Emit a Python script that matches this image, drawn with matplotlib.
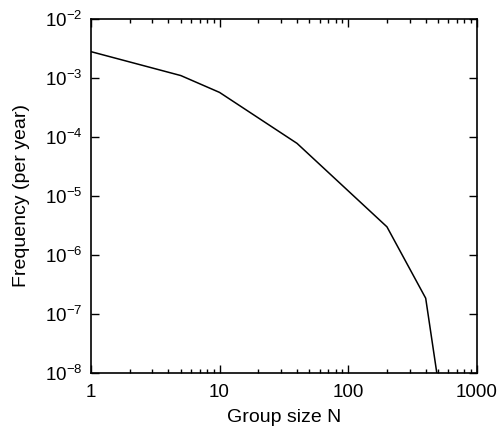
import matplotlib
matplotlib.use("Agg")
import matplotlib.pyplot as plt
import matplotlib.ticker as ticker
import numpy as np

plt.rcParams['font.family'] = ['Liberation Sans', 'DejaVu Sans']
plt.rcParams['mathtext.fontset'] = 'custom'
plt.rcParams['mathtext.rm'] = 'Liberation Sans'
plt.rcParams['mathtext.default'] = 'regular'

# Data
group_size = [1, 5, 10, 40, 200, 400, 500]
frequency = [2.8e-3, 1.1e-3, 5.7e-4, 7.8e-5, 3.0e-6, 1.85e-7, 7e-9]

x_ticks = [1, 10, 100, 1000]
x_labels = ['1', '10', '100', '1000']
y_ticks = [1e-8, 1e-7, 1e-6, 1e-5, 1e-4, 1e-3, 1e-2]
y_labels = [r'$10^{%d}$' % e for e in range(-8, -1)]

fig = plt.figure(figsize=(5.02, 4.37), dpi=100)
ax = fig.add_axes([0.181, 0.1465, 0.769, 0.81])

ax.plot(group_size, frequency, color='black', linewidth=1.1)

ax.set_xscale('log')
ax.set_yscale('log')
ax.set_xlim(1, 1000)
ax.set_ylim(1e-8, 1e-2)

ax.set_xticks(x_ticks)
ax.set_xticklabels(x_labels)
ax.xaxis.set_minor_locator(ticker.LogLocator(base=10, subs=np.arange(2, 10)))
ax.xaxis.set_minor_formatter(ticker.NullFormatter())
ax.set_yticks(y_ticks)
ax.set_yticklabels(y_labels)
ax.yaxis.set_minor_locator(ticker.NullLocator())

ax.tick_params(which='both', direction='in', top=True, right=True, width=1.0, labelsize=13.5)
ax.tick_params(which='major', length=6)
ax.tick_params(which='minor', length=3)
ax.tick_params(axis='x', which='major', pad=8)
ax.tick_params(axis='y', which='major', pad=6)

for s in ax.spines.values():
    s.set_linewidth(1.2)

ax.set_xlabel('Group size N', fontsize=14, labelpad=6)
ax.set_ylabel('Frequency (per year)', fontsize=14, labelpad=11)

fig.savefig('out.png', dpi=100)
